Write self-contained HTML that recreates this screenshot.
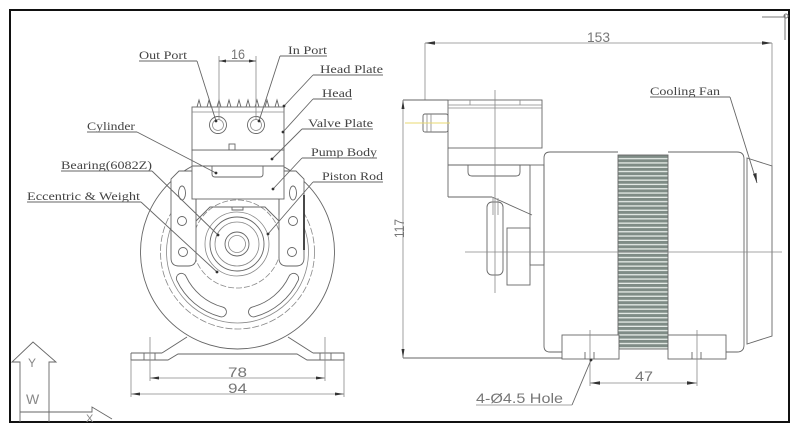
<!DOCTYPE html>
<html><head><meta charset="utf-8"><style>
html,body{margin:0;padding:0;background:#fff;}
svg{display:block;}
.l{stroke:#666;stroke-width:0.9;fill:none;}
.t{stroke:#888;stroke-width:0.8;fill:none;}
.w{stroke:#666;stroke-width:0.9;fill:#fff;}
.lab{font-family:"Liberation Serif",serif;font-size:11.5px;fill:#444;}
.dim{font-family:"Liberation Sans",sans-serif;font-size:14px;fill:#777;}
.ar{fill:#333;stroke:none;}
</style></head><body>
<svg width="800" height="432" viewBox="0 0 800 432" xmlns="http://www.w3.org/2000/svg">
<defs>
<pattern id="fin" patternUnits="userSpaceOnUse" x="0" y="155" width="60" height="4.3">
<rect width="60" height="4.3" fill="#e6ece8"/>
<rect y="0" width="60" height="3" fill="#7f8c86"/>
</pattern>
</defs>
<rect x="0" y="0" width="800" height="432" fill="#fff"/>

<!-- frame -->
<rect x="10" y="10" width="779" height="412" fill="none" stroke="#111" stroke-width="2"/>
<line x1="762" y1="17" x2="785" y2="17" stroke="#777" stroke-width="1"/>
<line x1="785" y1="15" x2="785" y2="40" stroke="#777" stroke-width="1"/>
<circle cx="786" cy="16" r="2" fill="none" stroke="#777"/>

<!-- axis icon -->
<polyline class="l" points="20,422 20,362 12,362 33,342 56,362 49,362 49,422"/>
<polyline class="l" points="20,412 92,412 92,407 112,419"/>
<text x="28" y="367" font-family="Liberation Sans,sans-serif" font-size="12" fill="#888">Y</text>
<text x="26" y="404" font-family="Liberation Sans,sans-serif" font-size="14" fill="#888">W</text>
<text x="86" y="422" font-family="Liberation Sans,sans-serif" font-size="11" fill="#888">X</text>

<!-- ===== FRONT VIEW ===== -->
<circle cx="237.5" cy="252" r="97" class="l"/>
<circle cx="237.5" cy="252" r="77" class="t" stroke-dasharray="7 2"/>
<circle cx="237.5" cy="252" r="71" class="t"/>
<path class="l" d="M176.78 280.31 A67 67 0 0 0 220.16 316.72 A5 5 0 0 0 222.75 307.06 A57 57 0 0 1 185.84 276.09 A5 5 0 0 0 176.78 280.31 Z"/>
<path class="l" d="M298.22 280.31 A67 67 0 0 1 254.84 316.72 A5 5 0 0 1 252.25 307.06 A57 57 0 0 0 289.16 276.09 A5 5 0 0 1 298.22 280.31 Z"/>

<!-- eccentric -->
<circle cx="237" cy="244" r="44" class="t" stroke-dasharray="6 2"/>
<path class="l" d="M196 221 L210 207 L265 207 L279 221"/>
<path class="l" d="M232 207 L232 210 L243 210 L243 207"/>
<circle cx="237" cy="244" r="32" class="t"/>
<circle cx="237" cy="244" r="27" class="l"/>
<circle cx="237" cy="244" r="22" class="t"/>
<circle cx="237" cy="244" r="12" class="l"/>
<circle cx="237" cy="244" r="8.5" class="t"/>

<!-- brackets -->
<path class="w" d="M196 171 L179 171 L171 179 L171 258 Q171 266 179 266 L188 266 Q196 266 196 258 Z"/>
<path class="w" d="M279 171 L296 171 L304 179 L304 258 Q304 266 296 266 L287 266 Q279 266 279 258 Z"/>
<line x1="304" y1="195" x2="304" y2="250" stroke="#333" stroke-width="1.8"/>
<ellipse cx="182" cy="193" rx="3.5" ry="7" class="l"/>
<circle cx="182" cy="221" r="4.5" class="l"/>
<circle cx="183" cy="252" r="4.5" class="l"/>
<ellipse cx="293" cy="193" rx="3.5" ry="7" class="l"/>
<circle cx="293" cy="221" r="4.5" class="l"/>
<circle cx="292" cy="252" r="4.5" class="l"/>

<!-- pump body -->
<rect x="192" y="150" width="92" height="49" class="w"/>
<line x1="192" y1="166" x2="284" y2="166" class="l"/>
<path class="l" d="M212 166 L212 174 Q212 177 215 177 L260 177 Q263 177 263 174 L263 166"/>
<line x1="196" y1="199" x2="196" y2="215" class="l"/>
<line x1="279" y1="199" x2="279" y2="215" class="l"/>

<!-- head -->
<rect x="192" y="107" width="92" height="43" class="w"/>
<line x1="192" y1="112" x2="284" y2="112" class="t"/>
<path class="l" d="M197 107 L199 100 L201 107 M207 107 L209 100 L211 107 M217 107 L219 100 L221 107 M227 107 L229 100 L231 107 M237 107 L239 100 L241 107 M246 107 L248 100 L250 107 M255 107 L257 100 L259 107 M265 107 L267 100 L269 107 M275 107 L277 100 L279 107"/>
<circle cx="218" cy="125" r="8.5" class="l"/>
<circle cx="218" cy="125" r="5.5" class="t"/>
<circle cx="256" cy="125" r="8.5" class="l"/>
<circle cx="256" cy="125" r="5.5" class="t"/>
<rect x="229" y="144" width="6" height="6" class="l"/>

<!-- base -->
<line x1="187" y1="337" x2="162" y2="353" class="l"/>
<line x1="288" y1="337" x2="313" y2="353" class="l"/>
<path class="l" d="M131 353 L162 353 M131 353 L131 360 L168 360 L178 354 L297 354 L307 360 L344 360 L344 353 L313 353"/>
<path class="l" d="M144 353 L144 360 M155 353 L155 360 M331 353 L331 360 M320 353 L320 360"/>
<line x1="150" y1="337" x2="150" y2="381" class="t"/>
<line x1="325" y1="337" x2="325" y2="381" class="t"/>
<line x1="131" y1="360" x2="131" y2="397" class="t"/>
<line x1="344" y1="360" x2="344" y2="397" class="t"/>
<line x1="150" y1="378" x2="325" y2="378" class="t"/>
<polygon class="ar" points="150,378 159,376.5 159,379.5"/>
<polygon class="ar" points="325,378 316,376.5 316,379.5"/>
<text class="dim" x="228" y="377" textLength="19" lengthAdjust="spacingAndGlyphs">78</text>
<line x1="131" y1="394" x2="344" y2="394" class="t"/>
<polygon class="ar" points="131,394 140,392.5 140,395.5"/>
<polygon class="ar" points="344,394 335,392.5 335,395.5"/>
<text class="dim" x="228" y="393" textLength="19" lengthAdjust="spacingAndGlyphs">94</text>

<!-- 16 dim -->
<line x1="219" y1="56" x2="219" y2="120" class="t"/>
<line x1="256" y1="56" x2="256" y2="120" class="t"/>
<line x1="219" y1="61" x2="256" y2="61" class="l"/>
<polygon class="ar" points="219,61 226,59.5 226,62.5"/>
<polygon class="ar" points="256,61 249,59.5 249,62.5"/>
<text class="dim" x="231" y="59" font-size="12" textLength="14" lengthAdjust="spacingAndGlyphs">16</text>

<!-- labels front -->
<text class="lab" x="139" y="59" textLength="48" lengthAdjust="spacingAndGlyphs">Out Port</text>
<line x1="139" y1="61" x2="197" y2="61" class="l"/>
<line x1="197" y1="61" x2="216" y2="121" class="l"/>
<text class="lab" x="288" y="54" textLength="39" lengthAdjust="spacingAndGlyphs">In Port</text>
<line x1="280" y1="56" x2="327" y2="56" class="l"/>
<line x1="280" y1="56" x2="259" y2="121" class="l"/>
<text class="lab" x="320" y="73" textLength="63" lengthAdjust="spacingAndGlyphs">Head Plate</text>
<line x1="313" y1="75" x2="383" y2="75" class="l"/>
<line x1="313" y1="75" x2="284" y2="106" class="l"/>
<text class="lab" x="322" y="97" textLength="30" lengthAdjust="spacingAndGlyphs">Head</text>
<line x1="313" y1="99" x2="352" y2="99" class="l"/>
<line x1="313" y1="99" x2="283" y2="132" class="l"/>
<text class="lab" x="308" y="127" textLength="65" lengthAdjust="spacingAndGlyphs">Valve Plate</text>
<line x1="302" y1="129" x2="373" y2="129" class="l"/>
<line x1="302" y1="129" x2="272" y2="159" class="l"/>
<text class="lab" x="311" y="156" textLength="66" lengthAdjust="spacingAndGlyphs">Pump Body</text>
<line x1="302" y1="158" x2="377" y2="158" class="l"/>
<line x1="302" y1="158" x2="273" y2="189" class="l"/>
<text class="lab" x="322" y="180" textLength="61" lengthAdjust="spacingAndGlyphs">Piston Rod</text>
<line x1="313" y1="182" x2="383" y2="182" class="l"/>
<line x1="313" y1="182" x2="268" y2="234" class="l"/>
<text class="lab" x="87" y="130" textLength="48" lengthAdjust="spacingAndGlyphs">Cylinder</text>
<line x1="87" y1="132" x2="137" y2="132" class="l"/>
<line x1="137" y1="132" x2="216" y2="173" class="l"/>
<text class="lab" x="61" y="169" textLength="91" lengthAdjust="spacingAndGlyphs">Bearing(6082Z)</text>
<line x1="61" y1="171" x2="152" y2="171" class="l"/>
<line x1="152" y1="171" x2="218" y2="235" class="l"/>
<text class="lab" x="27" y="200" textLength="113" lengthAdjust="spacingAndGlyphs">Eccentric &amp; Weight</text>
<line x1="27" y1="202" x2="141" y2="202" class="l"/>
<line x1="141" y1="202" x2="217" y2="272" class="l"/>
<g class="ar">
<circle cx="216" cy="121" r="1.4"/><circle cx="259" cy="121" r="1.4"/>
<circle cx="284" cy="106" r="1.4"/><circle cx="283" cy="132" r="1.4"/>
<circle cx="272" cy="159" r="1.4"/><circle cx="273" cy="189" r="1.4"/>
<circle cx="268" cy="234" r="1.4"/><circle cx="216" cy="173" r="1.4"/>
<circle cx="218" cy="235" r="1.4"/><circle cx="217" cy="272" r="1.4"/>
</g>

<!-- ===== SIDE VIEW ===== -->
<line x1="425" y1="43" x2="425" y2="100" class="t"/>
<line x1="772" y1="43" x2="772" y2="166" class="t"/>
<line x1="425" y1="43" x2="772" y2="43" class="t"/>
<polygon class="ar" points="425,43 435,41.3 435,44.7"/>
<polygon class="ar" points="772,43 762,41.3 762,44.7"/>
<text class="dim" x="587" y="42" textLength="23" lengthAdjust="spacingAndGlyphs">153</text>

<line x1="403" y1="100" x2="448" y2="100" class="l"/>
<line x1="403" y1="100" x2="403" y2="358" class="t"/>
<polygon class="ar" points="403,100 401.5,109 404.5,109"/>
<polygon class="ar" points="403,358 401.5,349 404.5,349"/>
<text class="dim" x="0" y="0" transform="translate(404,238) rotate(-90)" font-size="12" textLength="19" lengthAdjust="spacingAndGlyphs">117</text>
<line x1="403" y1="358" x2="562" y2="358" class="l"/>

<!-- pump head side -->
<rect x="448" y="100" width="94" height="48" class="l"/>
<line x1="448" y1="105" x2="542" y2="105" class="t"/>
<line x1="448" y1="108" x2="542" y2="108" class="t"/>
<line x1="470" y1="100" x2="470" y2="105" class="t"/>
<line x1="520" y1="100" x2="520" y2="105" class="t"/>
<rect x="423" y="114" width="25" height="18" rx="2" class="l"/>
<line x1="427" y1="114" x2="427" y2="132" class="t"/>
<line x1="431" y1="114" x2="431" y2="132" class="t"/>
<line x1="405" y1="123" x2="450" y2="123" stroke="#e8d870" stroke-width="1"/>
<line x1="448" y1="148" x2="448" y2="197" class="l"/>
<line x1="448" y1="197" x2="492" y2="197" class="l"/>
<line x1="492" y1="197" x2="532" y2="215" class="l"/>
<line x1="448" y1="165" x2="530" y2="165" class="l"/>
<path class="l" d="M468 165 L468 172 Q468 176 472 176 L516 176 Q520 176 520 172 L520 165"/>
<rect x="530" y="165" width="14" height="100" class="l"/>
<rect x="487" y="202" width="16" height="73" rx="5" class="l"/>
<line x1="493" y1="198" x2="493" y2="215" class="t"/>
<line x1="498" y1="198" x2="498" y2="215" class="t"/>
<rect x="507" y="228" width="23" height="57" class="l"/>
<line x1="495" y1="90" x2="495" y2="293" class="t"/>

<!-- motor -->
<path class="l" d="M618 152 L550 152 Q544 152 544 158 L544 346 Q544 352 550 352 L618 352"/>
<rect x="618" y="155" width="50" height="194" fill="url(#fin)" stroke="#666" stroke-width="0.9"/>
<path class="l" d="M668 152 L737 152 Q744 152 744 159 L744 345 Q744 352 737 352 L668 352"/>
<polygon class="l" points="747,158 772,166 772,336 747,344"/>
<rect x="562" y="335" width="57" height="24" class="w"/>
<rect x="668" y="335" width="58" height="24" class="w"/>
<path class="l" d="M585 352 L585 359 M594 352 L594 359 M692 352 L692 359 M701 352 L701 359"/>
<line x1="465" y1="252" x2="782" y2="252" class="t"/>
<line x1="590" y1="330" x2="590" y2="386" class="t"/>
<line x1="697" y1="330" x2="697" y2="386" class="t"/>
<line x1="590" y1="383" x2="697" y2="383" class="t"/>
<polygon class="ar" points="590,383 600,381.3 600,384.7"/>
<polygon class="ar" points="697,383 687,381.3 687,384.7"/>
<text class="dim" x="635" y="381" textLength="18" lengthAdjust="spacingAndGlyphs">47</text>

<text class="dim" x="476" y="403" font-size="12" textLength="87" lengthAdjust="spacingAndGlyphs">4-Ø4.5 Hole</text>
<line x1="476" y1="405" x2="572" y2="405" class="t"/>
<line x1="572" y1="405" x2="591" y2="360" class="l"/>
<circle cx="591" cy="360" r="1.4" class="ar"/>

<text class="lab" x="650" y="95" textLength="70" lengthAdjust="spacingAndGlyphs">Cooling Fan</text>
<line x1="650" y1="97" x2="730" y2="97" class="l"/>
<line x1="730" y1="97" x2="757" y2="183" class="l"/>
<polygon class="ar" points="757,183 753,174 756.5,173"/>
</svg>
</body></html>
